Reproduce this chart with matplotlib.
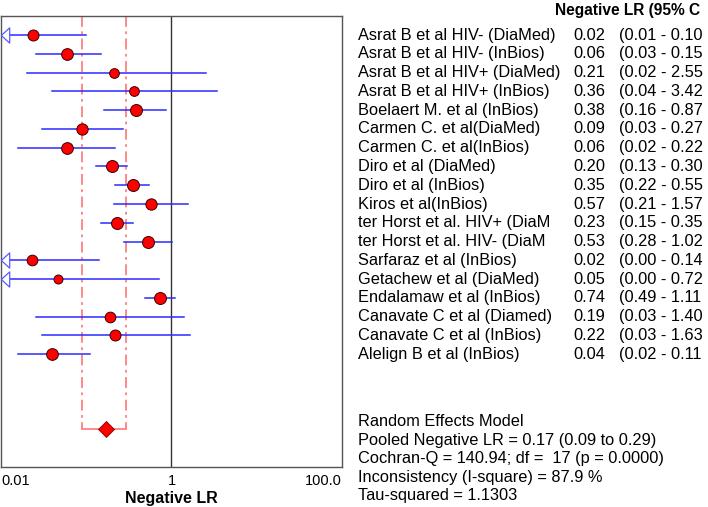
import matplotlib
matplotlib.use("Agg")
import matplotlib.pyplot as plt
import matplotlib.transforms as mtransforms

plt.rcParams['font.family'] = ['Liberation Sans', 'DejaVu Sans']

# study labels as printed (some are cut off in the original)
studies = ["Asrat B et al HIV- (DiaMed)", "Asrat B et al HIV- (InBios)",
           "Asrat B et al HIV+ (DiaMed)", "Asrat B et al HIV+ (InBios)",
           "Boelaert M. et al (InBios)", "Carmen C. et al(DiaMed)",
           "Carmen C. et al(InBios)", "Diro et al (DiaMed)", "Diro et al (InBios)",
           "Kiros et al(InBios)", "ter Horst et al. HIV+ (DiaM",
           "ter Horst et al. HIV- (DiaM", "Sarfaraz et al (InBios)",
           "Getachew et al (DiaMed)", "Endalamaw et al (InBios)",
           "Canavate C et al (Diamed)", "Canavate C et al (InBios)",
           "Alelign B et al (InBios)"]
est = [0.024, 0.06, 0.21, 0.36, 0.38, 0.09, 0.06, 0.20, 0.35,
       0.57, 0.23, 0.53, 0.023, 0.047, 0.74, 0.19, 0.22, 0.04]
lo = [0.0098, 0.026, 0.02, 0.04, 0.16, 0.03, 0.016, 0.13, 0.22,
      0.21, 0.15, 0.28, 0.004, 0.003, 0.49, 0.026, 0.03, 0.016]
hi = [0.10, 0.15, 2.55, 3.42, 0.87, 0.27, 0.22, 0.30, 0.55,
      1.57, 0.35, 1.02, 0.14, 0.72, 1.11, 1.40, 1.63, 0.11]
# approximate study weights (%) -> marker size
weight = [5.0, 5.9, 3.4, 3.4, 6.2, 5.4, 5.9, 6.2, 6.2,
          5.4, 6.2, 6.2, 4.6, 2.5, 6.2, 4.6, 5.0, 5.9]

pooled, pooled_lo, pooled_hi = 0.17, 0.09, 0.29
summary = ["Random Effects Model",
           "Pooled Negative LR = 0.17 (0.09 to 0.29)",
           "Cochran-Q = 140.94; df =  17 (p = 0.0000)",
           "Inconsistency (I-square) = 87.9 %",
           "Tau-squared = 1.1303"]

xmin, xmax = 0.01, 100.0
pooled_row = 21
fs = 11.8

fig = plt.figure(figsize=(7.08, 5.07), dpi=100)
ax = fig.add_axes([0.0014, 0.079, 0.4816, 0.889])
ax.set_xscale('log')
ax.set_xlim(xmin, xmax)
ax.set_ylim(23, -1)

# null line
ax.axvline(1, color='#333333', lw=1)

# pooled CI bracket
pc = '#ff8080'
for v in (pooled_lo, pooled_hi):
    ax.plot([v, v], [-1, pooled_row], color=pc, lw=1.3, dashes=(6, 2.5, 1.5, 2.5))
ax.plot([pooled_lo, pooled_hi], [pooled_row, pooled_row], color=pc, lw=1.3)
ax.plot([pooled], [pooled_row], marker='D', ms=8.2, color='#ff0000',
        mec='#800000', mew=0.6, zorder=5)

arrow_tr = mtransforms.offset_copy(ax.transData, fig=fig, x=4, y=0, units='dots')
tri = [(-0.55, 0), (0.55, 1), (0.55, -1), (-0.55, 0)]

for i in range(len(studies)):
    left = max(lo[i], xmin)
    ax.plot([left, hi[i]], [i, i], color='#2a2aff', lw=1.1, zorder=3)
    if lo[i] < xmin:
        ax.plot([xmin], [i], marker=tri, ms=11, mfc='white', mec='#5a5aff',
                mew=0.9, transform=arrow_tr, clip_on=False, zorder=4)
    d = 7 + 0.8 * weight[i]
    ax.plot([est[i]], [i], marker='o', ms=d * 0.72, color='#ff0000',
            mec='#3a0000', mew=0.7, zorder=5)

for s in ax.spines.values():
    s.set_color('#555555')
    s.set_linewidth(1)
ax.set_yticks([])
ax.set_xticks([0.01, 1, 100])
ax.minorticks_off()
ax.set_xticklabels(['0.01', '1', '100.0'], fontsize=10.5)
ax.tick_params(axis='x', length=0, pad=5)
labs = ax.get_xticklabels()
labs[0].set_ha('left')
labs[2].set_ha('right')
ax.set_xlabel('Negative LR', fontsize=11.5, fontweight='bold', labelpad=2)

# right-hand table
tr = mtransforms.blended_transform_factory(fig.transFigure, ax.transData)
fig.text(555 / 708, 1 - 10 / 507, 'Negative LR (95% C', fontsize=11.2,
         fontweight='bold', va='center', ha='left')
for i, name in enumerate(studies):
    ax.text(358 / 708, i, name, transform=tr, fontsize=fs, va='center', clip_on=False)
    ax.text(573 / 708, i, '%.2f' % est[i], transform=tr, fontsize=fs,
            va='center', clip_on=False)
    ax.text(619 / 708, i, '(%.2f - %.2f' % (lo[i], hi[i]), transform=tr,
            fontsize=fs, va='center', clip_on=False)

for k, line in enumerate(summary):
    ax.text(358 / 708, 20.6 + 0.985 * k, line, transform=tr, fontsize=fs,
            va='center', clip_on=False)

fig.savefig('out.png', dpi=100)
